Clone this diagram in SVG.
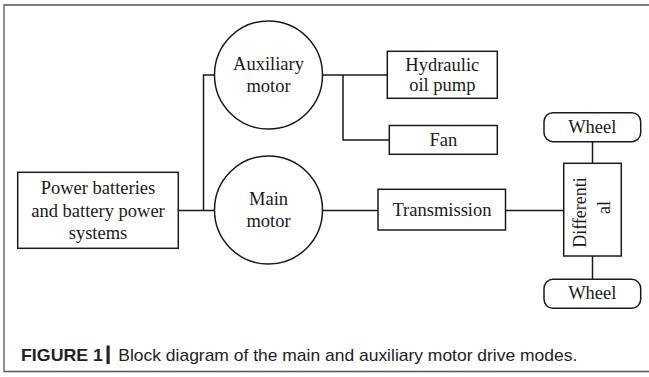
<svg xmlns="http://www.w3.org/2000/svg" width="649" height="377" viewBox="0 0 649 377">
<style>
.box{fill:#fff;stroke:#1a1a1a;stroke-width:1.5}
.ln{fill:none;stroke:#1a1a1a;stroke-width:1.5}
.t{font-family:"Liberation Serif","Times New Roman",serif;font-size:18.5px;fill:#1a1a1a;text-anchor:middle}
.frame{fill:none;stroke:#555;stroke-width:1.3}
.cap{font-family:"Liberation Sans",Arial,sans-serif;font-size:17px;fill:#222}
</style>
<rect width="649" height="377" fill="#fff"/>
<path class="frame" d="M649 5 H4 V371.5 H649"/>
<g id="connectors">
<path class="ln" d="M178 210.5 H214"/>
<path class="ln" d="M214 75 H203.5 V210.5"/>
<path class="ln" d="M323 75 H387"/>
<path class="ln" d="M343 75 V140 H389"/>
<path class="ln" d="M323 210.5 H378"/>
<path class="ln" d="M505 210.5 H564"/>
<path class="ln" d="M592.5 141.7 V163.3"/>
<path class="ln" d="M592.5 256 V279.3"/>
</g>
<g id="batteries">
<rect class="box" x="17.7" y="172.3" width="160.6" height="76"/>
<text class="t" x="98" y="194">Power batteries</text>
<text class="t" x="98" y="216.5">and battery power</text>
<text class="t" x="98" y="238.7">systems</text>
</g>
<g id="aux-motor">
<circle class="box" cx="268.5" cy="75" r="54"/>
<text class="t" x="268.5" y="70">Auxiliary</text>
<text class="t" x="268.5" y="92">motor</text>
</g>
<g id="main-motor">
<circle class="box" cx="268.5" cy="210" r="54"/>
<text class="t" x="268.5" y="205">Main</text>
<text class="t" x="268.5" y="226.5">motor</text>
</g>
<g id="pump">
<rect class="box" x="387.3" y="51.3" width="110" height="47"/>
<text class="t" x="442.3" y="71">Hydraulic</text>
<text class="t" x="442.3" y="90.5">oil pump</text>
</g>
<g id="fan">
<rect class="box" x="389.3" y="125.5" width="108" height="28.8"/>
<text class="t" x="443.3" y="145.5">Fan</text>
</g>
<g id="transmission">
<rect class="box" x="378" y="189.3" width="127.5" height="40.7"/>
<text class="t" x="442" y="216">Transmission</text>
</g>
<g id="differential">
<rect class="box" x="563.7" y="163.3" width="57.6" height="92.7"/>
<text class="t" transform="translate(586 212.5) rotate(-90)" x="0" y="0" style="font-size:18px">Differenti</text>
<text class="t" transform="translate(609.5 207.5) rotate(-90)" x="0" y="0" style="font-size:18px">al</text>
</g>
<g id="wheel-top">
<rect class="box" x="544" y="112.7" width="96.7" height="29" rx="9"/>
<text class="t" x="592.3" y="132.7">Wheel</text>
</g>
<g id="wheel-bottom">
<rect class="box" x="544" y="279.3" width="96.7" height="29" rx="9"/>
<text class="t" x="592.3" y="299.3">Wheel</text>
</g>
<g id="caption">
<text class="cap" x="21" y="360.7" style="font-weight:bold" textLength="82" lengthAdjust="spacingAndGlyphs">FIGURE 1</text>
<rect x="106.5" y="345.5" width="3.2" height="18.5" fill="#222"/>
<text class="cap" x="118.3" y="360.7" textLength="459" lengthAdjust="spacingAndGlyphs">Block diagram of the main and auxiliary motor drive modes.</text>
</g>
</svg>
